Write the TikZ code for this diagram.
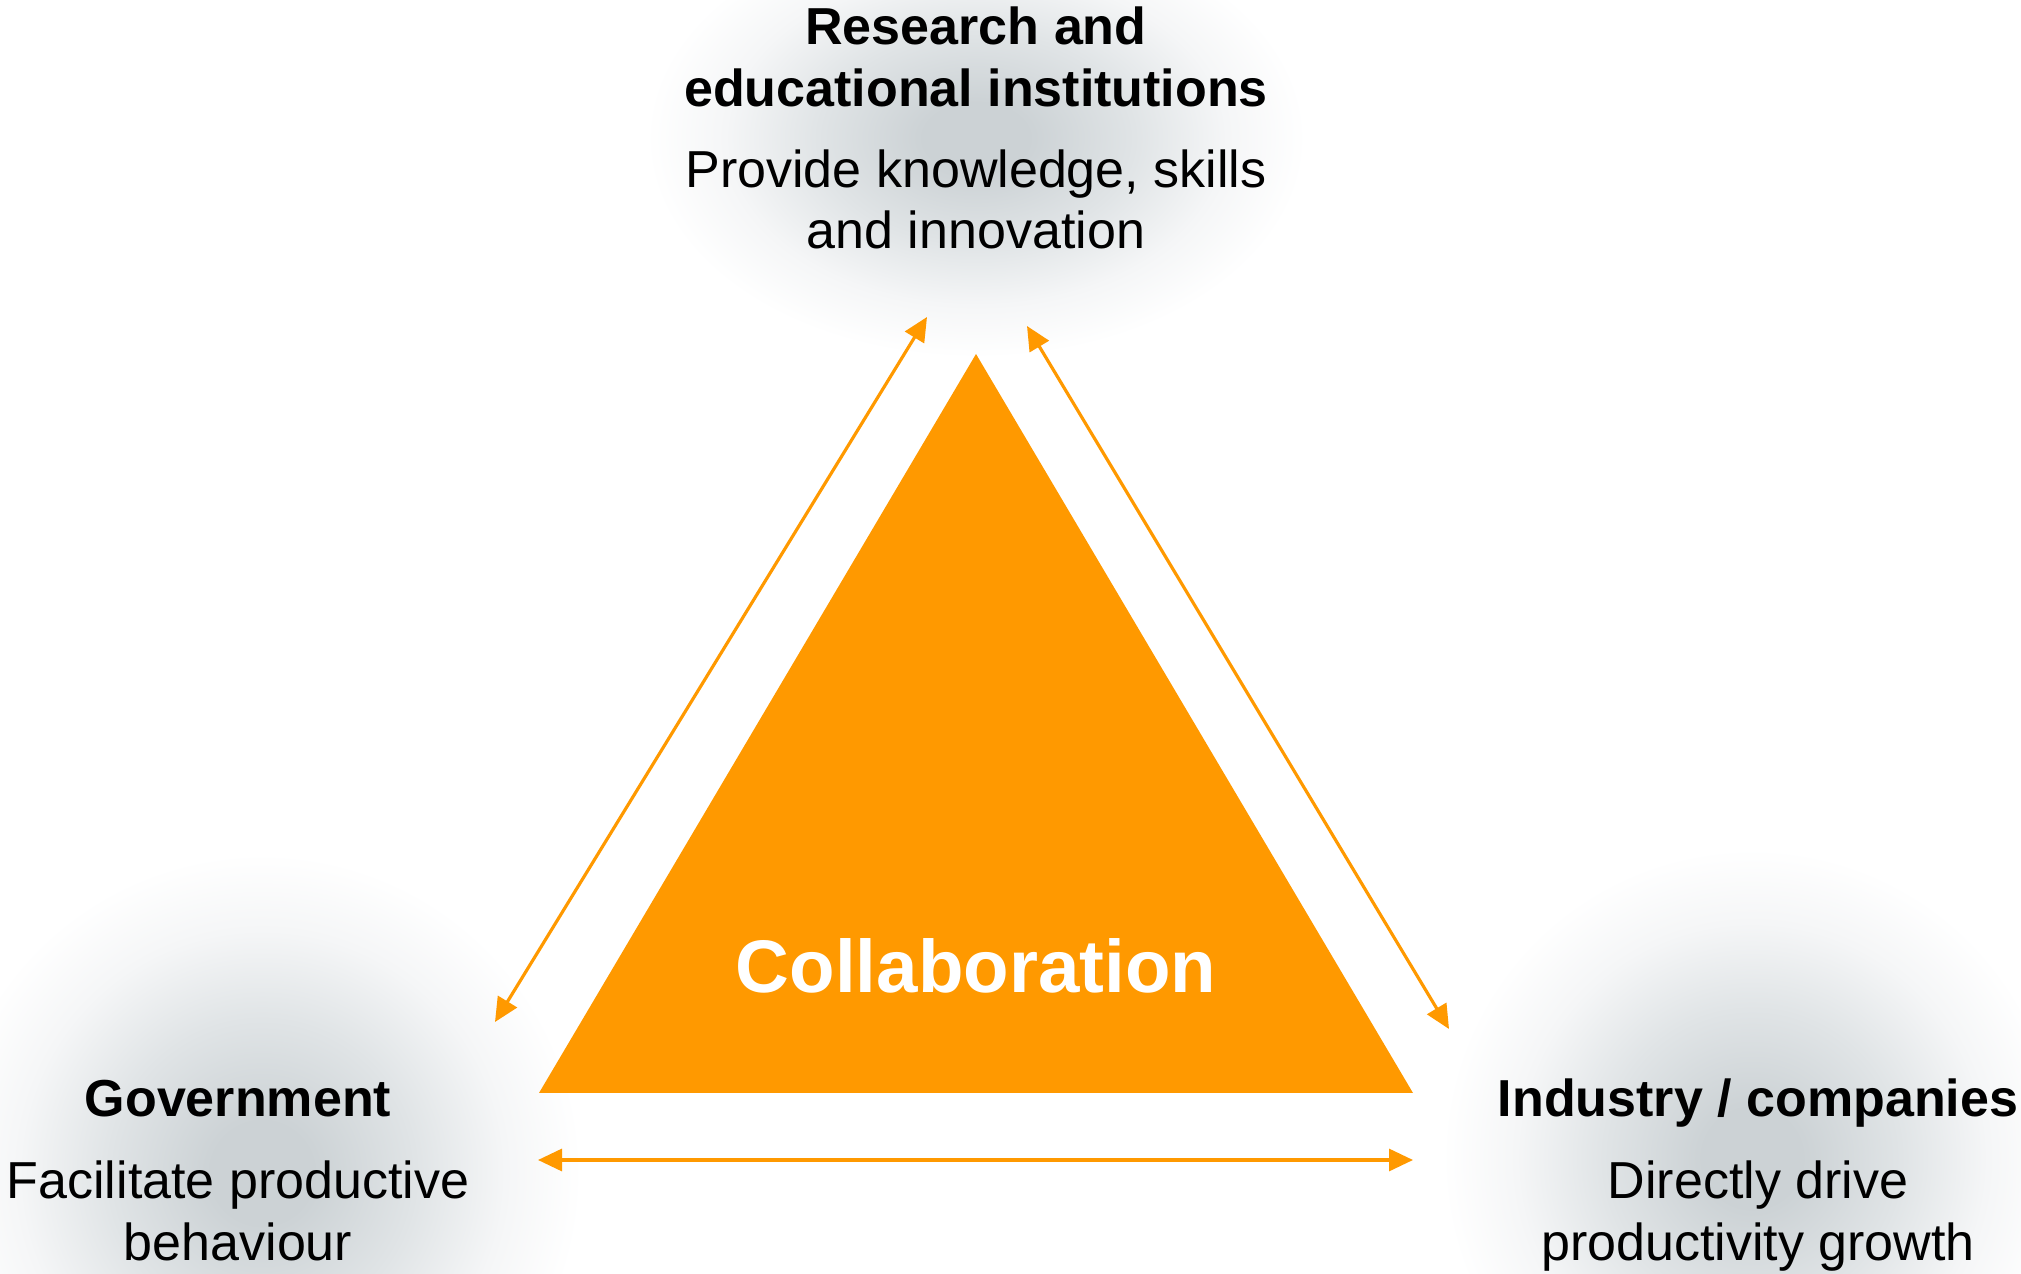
\documentclass[tikz,border=0pt]{standalone}
\usepackage{fontspec}
\setmainfont{Liberation Sans}
\usetikzlibrary{positioning,arrows.meta}

\definecolor{orng}{RGB}{255,153,0}
\definecolor{haze}{RGB}{204,210,213}
\definecolor{hazemid}{RGB}{224,228,230}
\definecolor{hazelow}{RGB}{245,246,247}
\pgfdeclareradialshading{glow}{\pgfpointorigin}{color(0bp)=(haze); color(4bp)=(haze); color(12bp)=(hazemid); color(19bp)=(hazelow); color(25bp)=(white); color(50bp)=(white)}

\tikzset{
    block/.style={font=\fontsize{14.8}{17.6}\selectfont, align=center, anchor=base, inner sep=0pt},
    link/.style={draw=orng, line width=0.9pt, {Triangle[length=0.24cm,width=0.22cm]}-{Triangle[length=0.24cm,width=0.22cm]}},
    halo/.style={shading=glow}
}

\begin{document}
\begin{tikzpicture}
                \useasboundingbox (0,0) rectangle (20.21,12.73);
                \clip (0,0) rectangle (20.21,12.73);

                \shade[halo] (9.76,11.35) ellipse (3.3 and 2.2);
                \shade[halo] (2.62,1.0) circle (3.2);
                \shade[halo] (17.52,1.15) circle (3.1);

                \coordinate (apex) at (9.76,9.19);
                \coordinate (left) at (5.39,1.80);
                \coordinate (right) at (14.13,1.80);
                \fill[orng] (apex) -- (left) -- (right) -- cycle;
                \node[block, font=\fontsize{21.2}{24}\selectfont\bfseries, text=white] (collab) at (9.76,2.80) {Collaboration};

                \node[block] (research) at (9.76,10.24) {\textbf{Research and}\\\textbf{educational institutions}\\[0.19cm]Provide knowledge, skills\\and innovation};
                \node[block] (gov) at (2.38,0.13) {\textbf{Government}\\[0.2cm]Facilitate productive\\behaviour};
                \node[block] (ind) at (17.58,0.13) {\textbf{Industry / companies}\\[0.2cm]Directly drive\\productivity growth};

                \coordinate (rl) at (9.27,9.56);
                \coordinate (gt) at (4.95,2.51);
                \coordinate (rr) at (10.27,9.47);
                \coordinate (it) at (14.49,2.44);
                \coordinate (gr) at (5.38,1.13);
                \coordinate (il) at (14.13,1.13);

                \draw[link] (rl) -- (gt);
                \draw[link] (rr) -- (it);
                \draw[link] (gr) -- (il);
            \end{tikzpicture}
\end{document}
